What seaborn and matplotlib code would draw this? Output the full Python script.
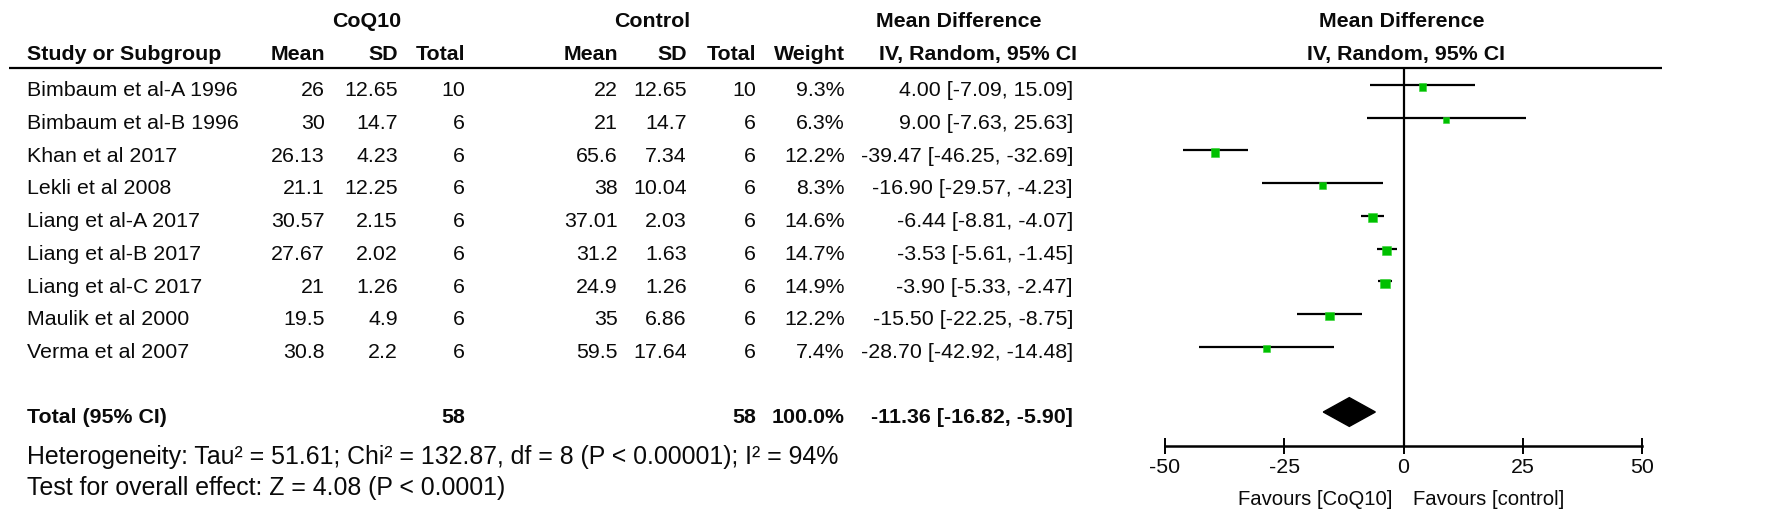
import numpy as np
import pandas as pd
import seaborn as sns
import matplotlib.pyplot as plt
from matplotlib.patches import Polygon

# ---- data ----
studies = ['Bimbaum et al-A 1996', 'Bimbaum et al-B 1996', 'Khan et al 2017',
           'Lekli et al 2008', 'Liang et al-A 2017', 'Liang et al-B 2017',
           'Liang et al-C 2017', 'Maulik et al 2000', 'Verma et al 2007']
coq_mean = [26, 30, 26.13, 21.1, 30.57, 27.67, 21, 19.5, 30.8]
coq_sd = [12.65, 14.7, 4.23, 12.25, 2.15, 2.02, 1.26, 4.9, 2.2]
coq_n = [10, 6, 6, 6, 6, 6, 6, 6, 6]
ctl_mean = [22, 21, 65.6, 38, 37.01, 31.2, 24.9, 35, 59.5]
ctl_sd = [12.65, 14.7, 7.34, 10.04, 2.03, 1.63, 1.26, 6.86, 17.64]
ctl_n = [10, 6, 6, 6, 6, 6, 6, 6, 6]
weight = [9.3, 6.3, 12.2, 8.3, 14.6, 14.7, 14.9, 12.2, 7.4]
md = [4.00, 9.00, -39.47, -16.90, -6.44, -3.53, -3.90, -15.50, -28.70]
ci_lo = [-7.09, -7.63, -46.25, -29.57, -8.81, -5.61, -5.33, -22.25, -42.92]
ci_hi = [15.09, 25.63, -32.69, -4.23, -4.07, -1.45, -2.47, -8.75, -14.48]

total_n = [58, 58]
total_weight = 100.0
total_md = [-11.36, -16.82, -5.90]
heterogeneity = 'Heterogeneity: Tau² = 51.61; Chi² = 132.87, df = 8 (P < 0.00001); I² = 94%'
overall = 'Test for overall effect: Z = 4.08 (P < 0.0001)'
ticks = [-50, -25, 0, 25, 50]

df = pd.DataFrame({'study': studies, 'md': md, 'lo': ci_lo, 'hi': ci_hi,
                   'weight': weight})
df['row'] = np.arange(len(df))

sns.set_style('white')
plt.rcParams['font.family'] = ['Liberation Sans', 'DejaVu Sans']
FS = 15.4
INK = '#0a0a0a'

W, H = 1772, 523
fig = plt.figure(figsize=(W / 100, H / 100), dpi=100)

# row units: row k sits at 85 + 32.7*k px from the top
ROW0, STEP = 85, 32.7
ylim = ((H - ROW0) / STEP, -ROW0 / STEP)
DY_HEAD = 0.065   # text centring correction
DY_ROW = 0.18     # row text sits a little below its CI line

# table axes in pixel units horizontally
ax_t = fig.add_axes([0, 0, 1, 1])
ax_t.set_xlim(0, W)
ax_t.set_ylim(*ylim)
ax_t.axis('off')

# forest axes: -50..50 maps to 1165..1642 px
ax = fig.add_axes([1165 / W, 0, 477 / W, 1])
ax.set_xlim(-50, 50)
ax.set_ylim(*ylim)
ax.patch.set_alpha(0)

def txt(x, k, s, ha='right', bold=False, size=FS, dy=DY_ROW):
    ax_t.text(x, k + dy, s, ha=ha, va='center', fontsize=size,
              fontweight='bold' if bold else 'normal', color=INK)

# headers
txt(367, -2, 'CoQ10', 'center', True, dy=DY_HEAD)
txt(652, -2, 'Control', 'center', True, dy=DY_HEAD)
txt(959, -2, 'Mean Difference', 'center', True, dy=DY_HEAD)
txt(1402, -2, 'Mean Difference', 'center', True, dy=DY_HEAD)
txt(27, -1, 'Study or Subgroup', 'left', True, dy=DY_HEAD)
for x, s in [(325, 'Mean'), (398, 'SD'), (465, 'Total'), (618, 'Mean'),
             (687, 'SD'), (756, 'Total'), (845, 'Weight')]:
    txt(x, -1, s, 'right', True, dy=DY_HEAD)
txt(978, -1, 'IV, Random, 95% CI', 'center', True, dy=DY_HEAD)
txt(1406, -1, 'IV, Random, 95% CI', 'center', True, dy=DY_HEAD)
ax_t.hlines(-0.52, 9, 1662, color='black', lw=1.6)

# study rows
for k in range(len(studies)):
    txt(27, k, studies[k], 'left')
    txt(325, k, f'{coq_mean[k]:g}')
    txt(398, k, f'{coq_sd[k]:g}')
    txt(465, k, f'{coq_n[k]}')
    txt(618, k, f'{ctl_mean[k]:g}')
    txt(687, k, f'{ctl_sd[k]:g}')
    txt(756, k, f'{ctl_n[k]}')
    txt(845, k, f'{weight[k]:.1f}%')
    txt(1073, k, f'{md[k]:.2f} [{ci_lo[k]:.2f}, {ci_hi[k]:.2f}]')

# total row
txt(27, 10, 'Total (95% CI)', 'left', True)
txt(465, 10, f'{total_n[0]}', 'right', True)
txt(756, 10, f'{total_n[1]}', 'right', True)
txt(845, 10, f'{total_weight:.1f}%', 'right', True)
txt(1073, 10, f'{total_md[0]:.2f} [{total_md[1]:.2f}, {total_md[2]:.2f}]', 'right', True)
txt(27, 11.3, heterogeneity, 'left', size=17.9, dy=DY_HEAD)
txt(27, 12.26, overall, 'left', size=17.9, dy=DY_HEAD)

# forest: CI lines, weighted squares, zero line, diamond
ax.hlines(df['row'], df['lo'], df['hi'], color='black', lw=1.6, clip_on=False)
df['sq'] = df['row'] + 0.06
sns.scatterplot(data=df, x='md', y='sq', size='weight', sizes=(0, 45),
                size_norm=(0, 15), marker='s', color='#00c000',
                edgecolor='#33d633', linewidth=0.4, legend=False, ax=ax,
                zorder=3, clip_on=False)
ax.vlines(0, -0.52, 11.03, color='black', lw=1.6)
h = 0.44
ax.add_patch(Polygon([(total_md[1], 10), (total_md[0], 10 - h),
                      (total_md[2], 10), (total_md[0], 10 + h)],
                     closed=True, color='black', zorder=3))

# bottom axis
for s in ['top', 'left', 'right']:
    ax.spines[s].set_visible(False)
ax.spines['bottom'].set_position(('data', 11.03))
ax.spines['bottom'].set_linewidth(1.8)
ax.spines['bottom'].set_color('black')
ax.set_xticks(ticks)
ax.set_xticklabels([f'{t}' for t in ticks])
ax.tick_params(axis='x', bottom=True, direction='inout', length=11.5, width=1.4,
               colors='black', labelsize=FS, pad=3, labelcolor=INK)
ax.set_yticks([])
ax.set_xlabel('')
ax.set_ylabel('')
ax.text(-2.4, 12.6 + DY_HEAD, 'Favours [CoQ10]', ha='right', va='center',
        fontsize=14.6, color=INK)
ax.text(2.0, 12.6 + DY_HEAD, 'Favours [control]', ha='left', va='center',
        fontsize=14.6, color=INK)

fig.savefig('out.png', dpi=100)
